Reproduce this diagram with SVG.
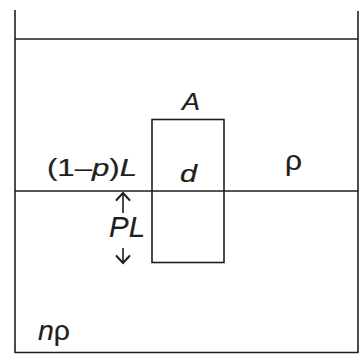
<svg xmlns="http://www.w3.org/2000/svg" width="362" height="356" viewBox="0 0 362 356">
<defs>
<style>
.ln{stroke:#1e1e1e;stroke-width:1.6;fill:none}
.hd{stroke:#1e1e1e;stroke-width:2;fill:none;stroke-linecap:round;stroke-linejoin:miter}
.t{font-family:"Liberation Sans",Arial,sans-serif;fill:#1e1e1e;stroke:#1e1e1e;stroke-width:0.2}
.i{font-style:italic}
</style>
</defs>
<rect width="362" height="356" fill="#ffffff"/>
<g id="container">
<line class="ln" x1="15" y1="10" x2="15" y2="353"/>
<line class="ln" x1="358" y1="11" x2="358" y2="353"/>
<line class="ln" x1="15" y1="352.5" x2="358" y2="352.5"/>
</g>
<g id="surface">
<line class="ln" x1="15" y1="39" x2="358" y2="39"/>
</g>
<g id="interface">
<line class="ln" x1="15" y1="191" x2="358" y2="191"/>
</g>
<g id="block">
<rect class="ln" x="152" y="119.5" width="72" height="143"/>
<text class="t i" x="182" y="110" font-size="24" textLength="18" lengthAdjust="spacingAndGlyphs">A</text>
<text class="t i" x="180" y="182" font-size="24" textLength="17" lengthAdjust="spacingAndGlyphs">d</text>
</g>
<g id="label-upper">
<text class="t" x="47" y="175.5" font-size="23" textLength="90" lengthAdjust="spacingAndGlyphs">(1–<tspan class="i">p</tspan>)<tspan class="i">L</tspan></text>
</g>
<g id="label-rho">
<text class="t" x="285" y="170" font-size="27" textLength="17" lengthAdjust="spacingAndGlyphs">ρ</text>
</g>
<g id="label-PL">
<text class="t i" x="109" y="237" font-size="30" textLength="36" lengthAdjust="spacingAndGlyphs">PL</text>
</g>
<g id="label-nrho">
<text class="t" x="38" y="340" font-size="27" textLength="32" lengthAdjust="spacingAndGlyphs"><tspan class="i">n</tspan>ρ</text>
</g>
<g id="connectors">
<line class="ln" x1="123" y1="213" x2="123" y2="193"/>
<polyline class="hd" points="116.5,200 123,193 129.5,200"/>
<line class="ln" x1="123" y1="248" x2="123" y2="263"/>
<polyline class="hd" points="116.5,256 123,263 129.5,256"/>
</g>
</svg>
